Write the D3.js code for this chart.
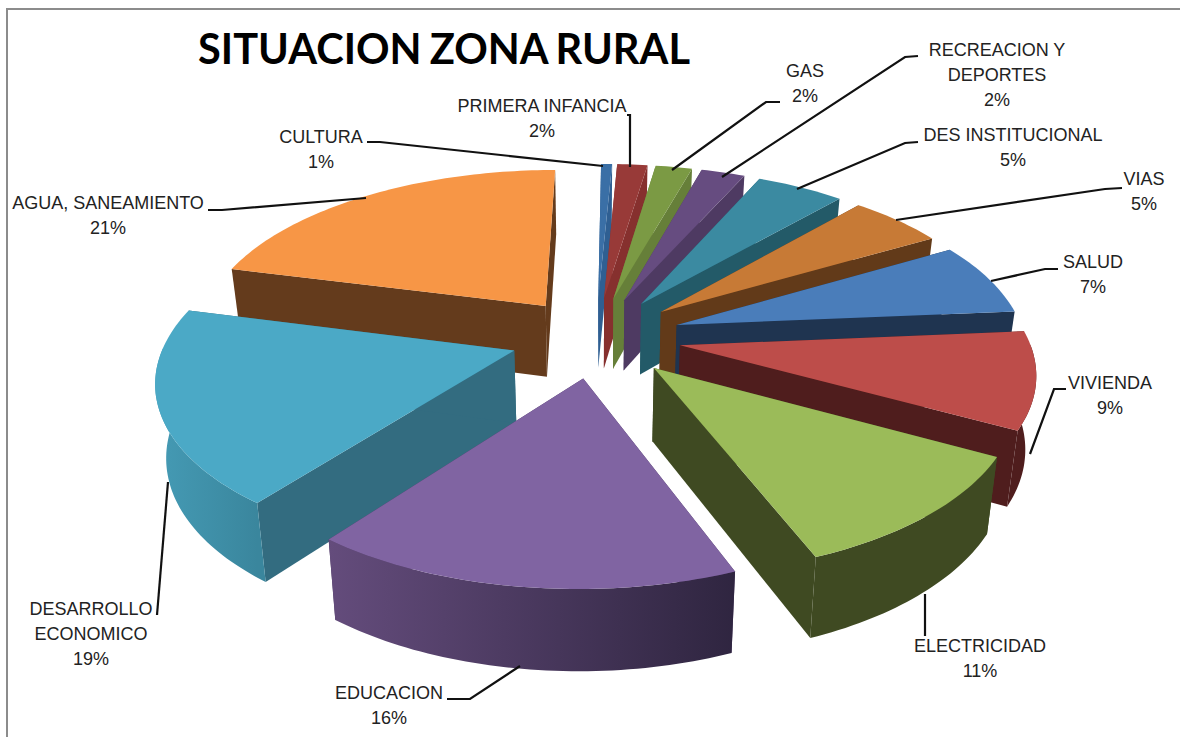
<!DOCTYPE html>
<html><head><meta charset="utf-8">
<script src="https://cdn.jsdelivr.net/npm/d3@7"></script>
<style>html,body{margin:0;padding:0;background:#fff}svg{display:block}</style>
</head><body><svg id="c" width="1180" height="737"></svg>
<script>
const categories=["CULTURA","PRIMERA INFANCIA","GAS","RECREACION Y DEPORTES","DES INSTITUCIONAL","VIAS","SALUD","VIVIENDA","ELECTRICIDAD","EDUCACION","DESARROLLO ECONOMICO","AGUA, SANEAMIENTO"];
const values=[0.6,1.65,2,2.4,4.8,5.2,7,9.2,11.1,16.45,18.55,21.05];
const labelLines=[["CULTURA"],["PRIMERA INFANCIA"],["GAS"],["RECREACION Y","DEPORTES"],["DES INSTITUCIONAL"],["VIAS"],["SALUD"],["VIVIENDA"],["ELECTRICIDAD"],["EDUCACION"],["DESARROLLO","ECONOMICO"],["AGUA, SANEAMIENTO"]];
const topColors=["#3a6fa6","#983a38","#7b9a44","#664c80","#3b8aa1","#c77a36","#4a7dba","#bd4d4a","#9bbb59","#8064a2","#4ba9c6","#f79646"];
const wallColors=["#2f5f92","#86302e","#667f39","#4e3a62","#235a68","#623a19","#1f3450","#4f1d1d","#3f4a22","#4a3760","#336c80","#643b1c"];
const arcLeft=["#2f5f92","#86302e","#667f39","#4e3a62","#235a68","#623a19","#1f3450","#4f1d1d","#3f4a22","#644c7c","#459bb5","#643b1c"];
const arcRight=["#2f5f92","#86302e","#667f39","#4e3a62","#235a68","#623a19","#1f3450","#4f1d1d","#3f4a22","#2f2540","#3a869d","#643b1c"];
const labelAnchors=[[321,143],[542,112],[805,77],[997,56],[1013,141],[1144,185],[1093,268],[1110,389],[980,652],[389,699],[91,615],[108,209]];
const leaders=[[[367,142],[380,142],[603,166]],[[627,115],[630,115],[630,167]],[[780,102],[766,102],[672,170]],[[918,56],[905,57],[722,177]],[[918,142],[905,143],[797,189]],[[1122,188],[1105,189],[896,220]],[[1058,269],[1045,269],[991,281]],[[1066,389],[1054,389],[1030,454]],[[925,594],[925,636]],[[447,699],[470,699],[520,666]],[[157,615],[168,482]],[[208,210],[222,210],[366,198]]];

const svg=d3.select("#c");
const CX=596,CY=337,A=348,B=165,K=0.15,EX=0.245,DEPTH=72,SHEAR=3;
const sx=d3.scaleLinear().domain([-1,1]).range([CX-A,CX+A]);
const sy=d3.scaleLinear().domain([-1,1]).range([CY+B,CY-B]);
function proj(u,v,low){
  const w=1+K*v;
  let x=CX+(sx(u)-CX)/w+SHEAR*v, y=CY+(sy(v)-CY)/w;
  if(low){x=CX+(x-CX)*0.975; y+=DEPTH/(1+0.1*v);}
  return [x,y];
}
const pie=d3.pie().sort(null).value(d=>d);
const arcs=pie(values);
const line=d3.line();
const defs=svg.append("defs");

svg.append("rect").attr("x",7).attr("y",9).attr("width",1200).attr("height",800).attr("fill","#fff").attr("stroke","#8c8c8c").attr("stroke-width",2);

const order=d3.range(arcs.length).sort((a,b)=>{
  const ma=(arcs[a].startAngle+arcs[a].endAngle)/2, mb=(arcs[b].startAngle+arcs[b].endAngle)/2;
  return Math.cos(mb)-Math.cos(ma);
});
const g=svg.append("g");
order.forEach(i=>{
  const d=arcs[i], m=(d.startAngle+d.endAngle)/2;
  const ox=EX*Math.sin(m), oy=EX*Math.cos(m);
  const P=(a,low)=>proj(ox+Math.sin(a),oy+Math.cos(a),low);
  const C=low=>proj(ox,oy,low);
  const n=Math.max(4,Math.ceil((d.endAngle-d.startAngle)/0.02));
  const angs=d3.range(n+1).map(j=>d.startAngle+(d.endAngle-d.startAngle)*j/n);
  const sl=g.append("g");
  [d.startAngle,d.endAngle].forEach(a=>{
    sl.append("path").attr("d",line([C(false),P(a,false),P(a,true),C(true)])+"Z").attr("fill",wallColors[i]);
  });
  const front=angs.filter(a=>Math.cos(a)<0.02);
  if(front.length>1){
    const up=front.map(a=>P(a,false)), dn=front.map(a=>P(a,true)).reverse();
    const ext=d3.extent(up,p=>p[0]);
    const id="g"+i;
    const lg=defs.append("linearGradient").attr("id",id).attr("gradientUnits","userSpaceOnUse")
      .attr("x1",ext[0]).attr("x2",ext[1]).attr("y1",0).attr("y2",0);
    lg.append("stop").attr("offset",0).attr("stop-color",arcLeft[i]);
    lg.append("stop").attr("offset",1).attr("stop-color",arcRight[i]);
    sl.append("path").attr("d",line(up.concat(dn))+"Z").attr("fill","url(#"+id+")");
  }
  sl.append("path").attr("d",line([C(false)].concat(angs.map(a=>P(a,false))))+"Z").attr("fill",topColors[i]);
});

const lg2=svg.append("g");
leaders.forEach(pts=>lg2.append("path").attr("d",line(pts)).attr("fill","none").attr("stroke","#111").attr("stroke-width",2.2));

const tg=svg.append("g").attr("font-family","'Liberation Sans',Arial,sans-serif").attr("font-size",18).attr("fill","#222").attr("text-anchor","middle");
labelLines.forEach((ls,i)=>{
  const [x,y]=labelAnchors[i];
  ls.concat([Math.round(values[i])+"%"]).forEach((t,j)=>tg.append("text").attr("x",x).attr("y",y+j*25).text(t));
});

svg.append("text").attr("x",198).attr("y",64).attr("font-family","Lato,sans-serif").attr("font-weight",700)
  .attr("font-size",42).attr("word-spacing",-2).attr("fill","#000").attr("textLength",492).attr("lengthAdjust","spacingAndGlyphs").text("SITUACION ZONA RURAL");
</script></body></html>
